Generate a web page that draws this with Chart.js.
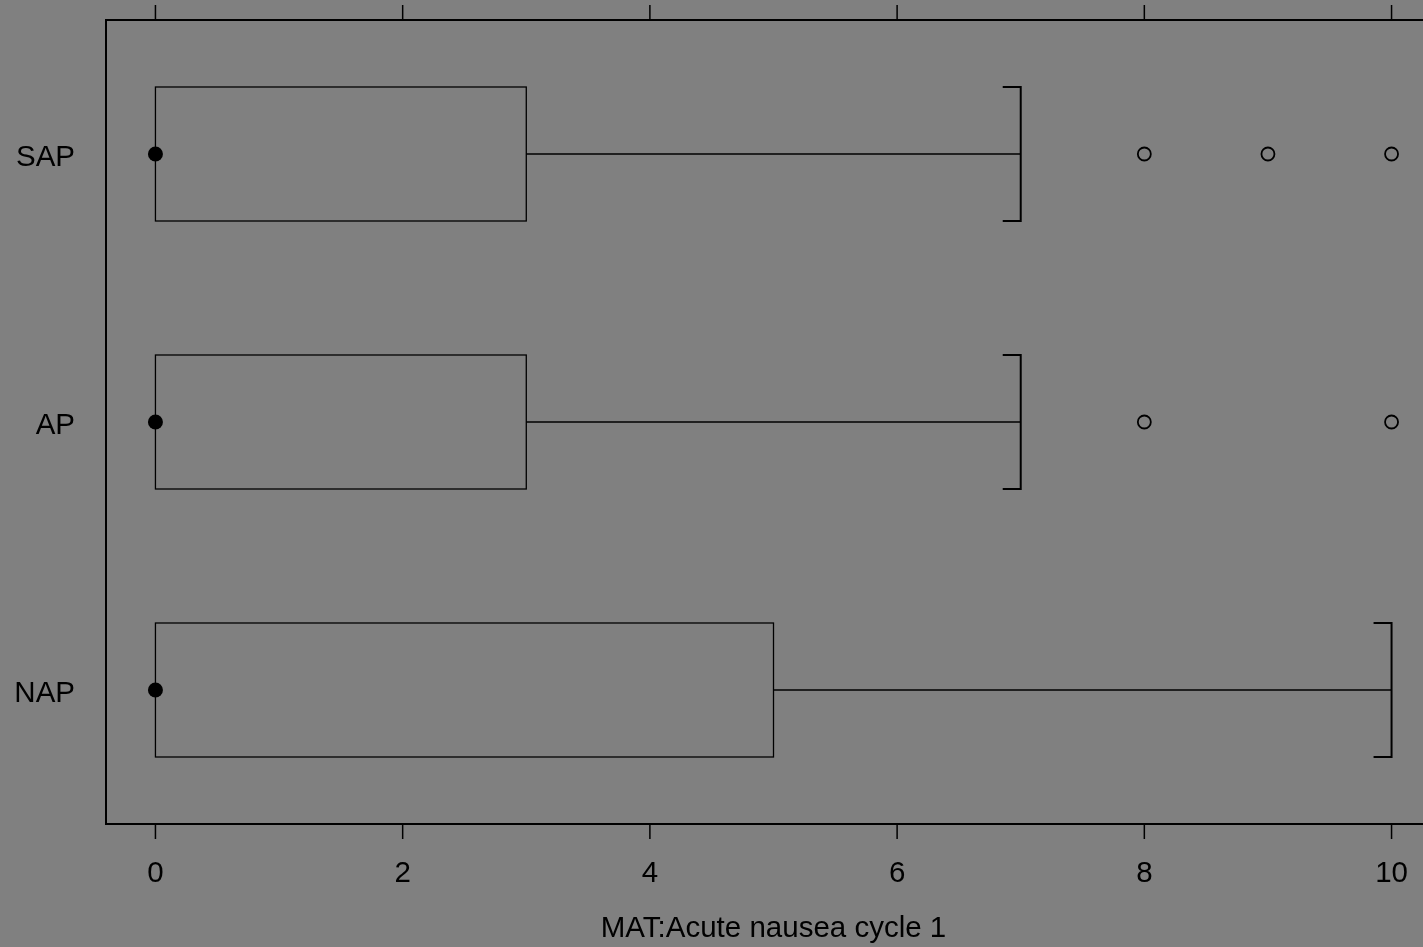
<!DOCTYPE html>
<html>
<head>
<meta charset="utf-8">
<script src="https://cdn.jsdelivr.net/npm/chart.js@4"></script>
<style>
  html, body { margin: 0; padding: 0; background: #808080; overflow: hidden; }
  #wrap { width: 1480px; height: 947px; }
</style>
</head>
<body>
<div id="wrap"><canvas id="bw" width="1480" height="947"></canvas></div>
<script>
// categories, bottom to top
const grupos = ['NAP', 'AP', 'SAP'];
const q1 = [0, 0, 0];
const mediana = [0, 0, 0];
const q3 = [5, 3, 3];
const bigodeMin = [0, 0, 0];
const bigodeMax = [10, 7, 7];
const outliers = [[], [8, 10], [8, 9, 10]];
const ticksX = [0, 2, 4, 6, 8, 10];
const tituloX = 'MAT:Acute nausea cycle 1';

const FONTE = '29.5px "Liberation Sans", Arial, sans-serif';

// pontos das medianas e outliers
const ptsMediana = grupos.map((g, i) => ({ x: mediana[i], y: i + 1 }));
const ptsOut = [];
outliers.forEach((lista, i) => lista.forEach(v => ptsOut.push({ x: v, y: i + 1 })));

// desenha caixa, bigodes, moldura e eixos
const boxPlugin = {
  id: 'boxPlugin',
  beforeDatasetsDraw(chart) {
    const ctx = chart.ctx;
    const xs = chart.scales.x, ys = chart.scales.y;
    ctx.save();
    ctx.strokeStyle = '#000';

    grupos.forEach((g, i) => {
      const yc = ys.getPixelForValue(i + 1);
      const yt = ys.getPixelForValue(i + 1.25);
      const yb = ys.getPixelForValue(i + 0.75);
      const x1 = xs.getPixelForValue(q1[i]);
      const x3 = xs.getPixelForValue(q3[i]);
      const xlo = xs.getPixelForValue(bigodeMin[i]);
      const xhi = xs.getPixelForValue(bigodeMax[i]);

      // caixa
      ctx.lineWidth = 1.3;
      ctx.strokeRect(x1, yt, x3 - x1, yb - yt);

      // bigode
      ctx.beginPath();
      ctx.moveTo(x3, yc);
      ctx.lineTo(xhi, yc);
      ctx.stroke();
      if (xlo < x1) {
        ctx.beginPath();
        ctx.moveTo(xlo, yc);
        ctx.lineTo(x1, yc);
        ctx.stroke();
      }

      // grampo
      ctx.lineWidth = 2;
      ctx.beginPath();
      ctx.moveTo(xhi - 18, yt);
      ctx.lineTo(xhi, yt);
      ctx.lineTo(xhi, yb);
      ctx.lineTo(xhi - 18, yb);
      ctx.stroke();
    });
    ctx.restore();
  },
  afterDraw(chart) {
    const ctx = chart.ctx;
    const xs = chart.scales.x, ys = chart.scales.y;
    const a = chart.chartArea;
    ctx.save();
    ctx.strokeStyle = '#000';
    ctx.fillStyle = '#000';

    // moldura
    ctx.lineWidth = 2;
    ctx.strokeRect(a.left, a.top, a.right - a.left, a.bottom - a.top);

    // ticks em baixo e em cima
    ctx.lineWidth = 1.5;
    ctx.font = FONTE;
    ctx.textAlign = 'center';
    ctx.textBaseline = 'middle';
    ticksX.forEach(t => {
      const x = xs.getPixelForValue(t);
      ctx.beginPath();
      ctx.moveTo(x, a.bottom);
      ctx.lineTo(x, a.bottom + 15);
      ctx.moveTo(x, a.top);
      ctx.lineTo(x, a.top - 15);
      ctx.stroke();
      ctx.fillText(String(t), x, a.bottom + 50);
    });

    // titulo do eixo x
    ctx.fillText(tituloX, (xs.getPixelForValue(0) + xs.getPixelForValue(10)) / 2, 929);

    // nomes dos grupos
    ctx.textAlign = 'right';
    grupos.forEach((g, i) => {
      ctx.fillText(g, 75, ys.getPixelForValue(i + 1) + 4);
    });
    ctx.restore();
  }
};

new Chart(document.getElementById('bw'), {
  type: 'scatter',
  data: {
    datasets: [
      {
        label: 'mediana',
        data: ptsMediana,
        pointRadius: 7.5,
        pointBackgroundColor: '#000',
        pointBorderColor: '#000',
        pointBorderWidth: 0
      },
      {
        label: 'outliers',
        data: ptsOut,
        pointRadius: 6.5,
        pointBackgroundColor: 'rgba(0,0,0,0)',
        pointBorderColor: '#000',
        pointBorderWidth: 1.8
      }
    ]
  },
  options: {
    responsive: false,
    animation: false,
    clip: false,
    layout: { padding: { left: 106, top: 20, right: 1480 - 1441, bottom: 947 - 824 } },
    plugins: {
      legend: { display: false },
      tooltip: { enabled: false }
    },
    scales: {
      x: { type: 'linear', min: -0.4, max: 10.4, display: false },
      y: { type: 'linear', min: 0.5, max: 3.5, display: false }
    }
  },
  plugins: [boxPlugin]
});
</script>
</body>
</html>
